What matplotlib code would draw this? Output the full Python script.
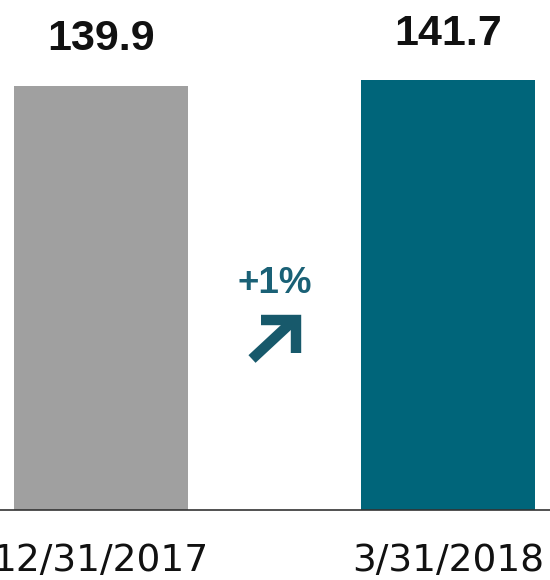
import matplotlib
matplotlib.use("Agg")
import matplotlib.pyplot as plt

categories = ["12/31/2017", "3/31/2018"]
values = [139.9, 141.7]
value_labels = ["139.9", "141.7"]
change_label = "+1%"
bar_colors = ["#a0a0a0", "#00657a"]

W, H = 550, 580
fig = plt.figure(figsize=(W / 100, H / 100), dpi=100)
ax = fig.add_axes([0, 70 / H, 1, 510 / H])

x = list(range(len(categories)))
ax.bar(x, values, width=0.5, color=bar_colors)
ax.set_xlim(-0.291, 1.294)
ax.set_ylim(0, 168.1)

for xi, v, lab in zip(x, values, value_labels):
    ax.annotate(lab, (xi, v), xytext=(0, 19), textcoords="offset points",
                ha="center", va="bottom", fontsize=31, fontweight="bold",
                family="Liberation Sans", color="#111111")

for s in ["top", "left", "right"]:
    ax.spines[s].set_visible(False)
ax.spines["bottom"].set_color("#333333")
ax.spines["bottom"].set_linewidth(1.2)
ax.set_yticks([])
ax.set_xticks(x)
ax.set_xticklabels(categories, fontsize=27, family="DejaVu Sans", color="#111111")
ax.tick_params(axis="x", length=0, pad=24)

# change annotation
fig.text(274.5 / W, 1 - 293 / H, change_label, ha="center", va="baseline",
         fontsize=26.5, fontweight="bold", family="Liberation Sans", color="#1a6176")

def fx(px):
    return px / W

def fy(py):
    return 1 - py / H

arrow_color = "#17596b"
fig.add_artist(plt.Line2D([fx(252), fx(294)], [fy(359), fy(320)], color=arrow_color,
                          lw=7.5, solid_capstyle="butt"))
fig.add_artist(plt.Line2D([fx(261), fx(295.5), fx(295.5)], [fy(319.5), fy(319.5), fy(353)],
                          color=arrow_color, lw=7.5, solid_capstyle="butt",
                          solid_joinstyle="miter"))

fig.savefig("out.png", dpi=100, facecolor="white")
